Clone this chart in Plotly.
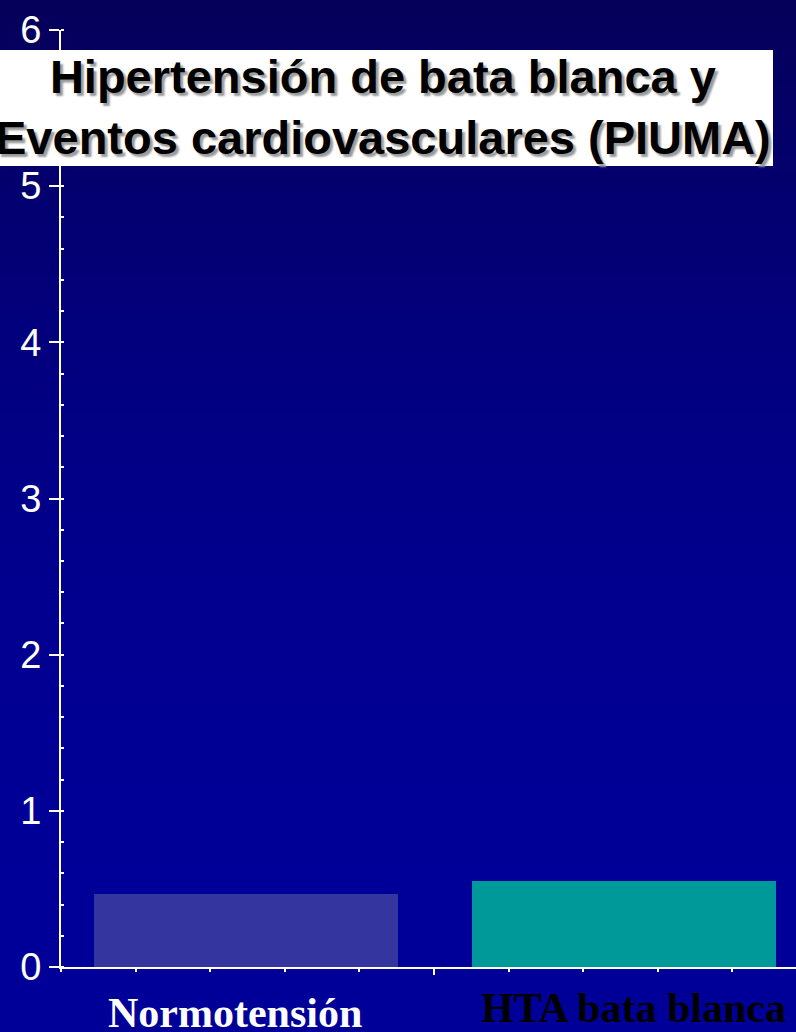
import plotly.graph_objects as go

# data
categories = ['Normotensión', 'HTA bata blanca']
events = [0.47, 0.55]
bar_colors = ['#3535A0', '#009999']
label_colors = ['white', 'black']
y_ticks = [0, 1, 2, 3, 4, 5, 6]

title_text = 'Hipertensión de bata blanca y<br>Eventos cardiovasculares (PIUMA)'

x_pos = [0.495, 1.51]

fig = go.Figure()
fig.add_trace(go.Bar(x=x_pos, y=events, width=0.815, marker=dict(color=bar_colors, line=dict(width=0)),
                     hoverinfo='skip'))

# gradient background made of thin bands
shapes = []
n_bands = 60
y_lo, y_hi = -65 / 937, 1 + 30 / 937
for k in range(n_bands):
    t = k / (n_bands - 1)
    f = 1 - (1 - t) ** 2
    r = int(round(5 * (1 - f)))
    b = int(round(90 + (153 - 90) * f))
    y1 = y_hi - (y_hi - y_lo) * k / n_bands
    y0 = y_hi - (y_hi - y_lo) * (k + 1) / n_bands
    shapes.append(dict(type='rect', xref='paper', yref='paper', x0=-0.1, x1=1.05, y0=y0 - 0.001, y1=y1 + 0.001,
                       fillcolor='rgb(%d,0,%d)' % (r, b), line=dict(width=0), layer='below'))

# white title box
shapes.append(dict(type='rect', xref='paper', yref='paper', x0=-0.1, x1=(773 - 61) / 735,
                   y0=(967 - 166) / 937, y1=(967 - 50) / 937, fillcolor='white', line=dict(width=0), layer='below'))

annotations = [dict(text=title_text, xref='paper', yref='paper', x=(383 - 61) / 735, y=(967 - 107) / 937,
                    xanchor='center', yanchor='middle', showarrow=False, align='center',
                    font=dict(family='Liberation Sans', size=47, color='black', weight='bold',
                              shadow='3px 3px 2px #9a9a9a'))]

shifts = [-13, 13]
yshifts = [-21, -16]
for i, cat in enumerate(categories):
    annotations.append(dict(text='<b>%s</b>' % cat, xref='x', yref='paper', x=i + 0.5, y=0, xshift=shifts[i],
                            yshift=yshifts[i], xanchor='center', yanchor='top', showarrow=False,
                            font=dict(family='Liberation Serif', size=42, color=label_colors[i])))

fig.update_layout(
    width=796, height=1032,
    margin=dict(l=61, r=0, t=30, b=65),
    paper_bgcolor='#000099', plot_bgcolor='rgba(0,0,0,0)',
    showlegend=False, bargap=0,
    shapes=shapes, annotations=annotations,
    xaxis=dict(range=[0, 735 / 373], showgrid=False, zeroline=False, showline=True, linecolor='white',
               linewidth=2, tickvals=[1], ticks='outside', ticklen=6, tickwidth=2, tickcolor='white',
               showticklabels=False,
               minor=dict(tick0=0, dtick=0.2, ticks='outside', ticklen=3, tickwidth=2, tickcolor='white')),
    yaxis=dict(range=[0, 6], showgrid=False, zeroline=False, showline=True, linecolor='white', linewidth=2,
               tickvals=y_ticks, ticks='outside', ticklen=10, tickwidth=2, tickcolor='white',
               tickfont=dict(family='Liberation Sans', size=38, color='white'),
               minor=dict(tick0=0, dtick=0.2, ticks='inside', ticklen=3, tickwidth=2, tickcolor='white')),
)

# the page body has a default 8px margin; drop it so the figure sits at the window corner
fig.write_html('out.html', config={'displayModeBar': False},
               post_script="document.body.style.margin='0';")
